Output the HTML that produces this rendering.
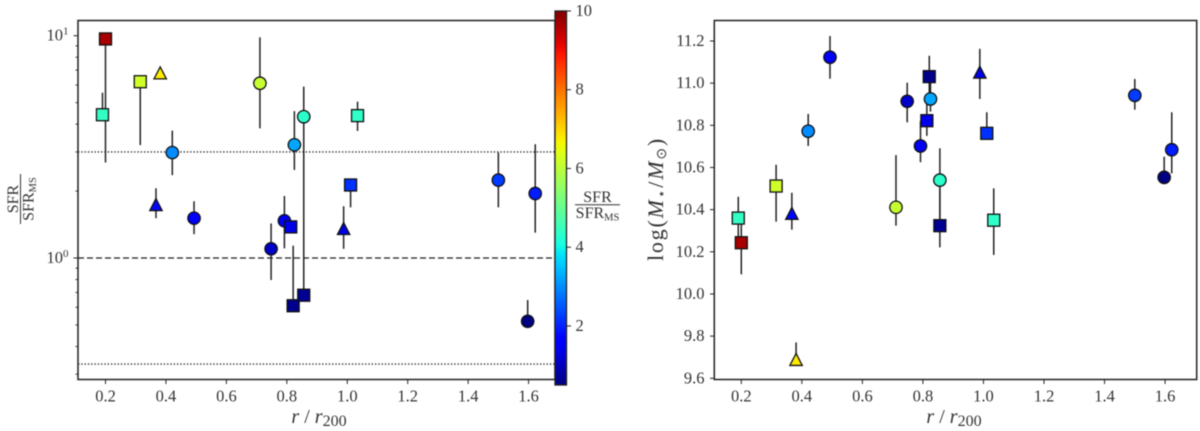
<!DOCTYPE html>
<html lang="en">
<head>
<meta charset="utf-8">
<title>SFR and stellar mass against cluster-centric radius</title>
<style>
html,body{margin:0;padding:0;background:#fff;width:1200px;height:431px;overflow:hidden}
svg{display:block;filter:blur(0.4px)}
text{font-family:"Liberation Serif",serif;fill:#333}
</style>
</head>
<body>
<svg id="fig" width="1200" height="431" viewBox="0 0 1200 431" xmlns="http://www.w3.org/2000/svg">
  <defs>
    <linearGradient id="jetGrad" x1="0" y1="1" x2="0" y2="0"></linearGradient>
  </defs>
  <g id="leftLines"></g>
  <g id="leftErr"></g>
  <g id="leftMarks"></g>
  <g id="leftAxes"></g>
  <g id="rightErr"></g>
  <g id="rightMarks"></g>
  <g id="rightAxes"></g>
  <g id="cbar"></g>

  <g transform="translate(20.5,199) rotate(-90)">
    <text x="0" y="-2.5" text-anchor="middle" font-size="16">SFR</text>
    <line x1="-25" x2="25" y1="0" y2="0" stroke="#333" stroke-width="1"></line>
    <text x="0" y="13" text-anchor="middle" font-size="16">SFR<tspan font-size="10.5" dy="2.5">MS</tspan></text>
  </g>
  <text x="319" y="423" text-anchor="middle" font-size="20"><tspan font-style="italic">r</tspan> / <tspan font-style="italic">r</tspan><tspan font-size="16" dy="3">200</tspan></text>

  <g>
    <text x="597.5" y="202" text-anchor="middle" font-size="16">SFR</text>
    <line x1="575" x2="620" y1="204.7" y2="204.7" stroke="#333" stroke-width="1"></line>
    <text x="597.5" y="218" text-anchor="middle" font-size="16">SFR<tspan font-size="10.5" dy="2.5">MS</tspan></text>
  </g>

  <text transform="translate(663,199) rotate(-90)" text-anchor="middle" font-size="22" letter-spacing="1.8">log(<tspan font-style="italic">M</tspan><tspan font-size="14" dy="3">⋆</tspan><tspan dy="-3">/</tspan><tspan font-style="italic">M</tspan><tspan font-size="14" dy="3">⊙</tspan><tspan dy="-3">)</tspan></text>
  <text x="954" y="423" text-anchor="middle" font-size="20"><tspan font-style="italic">r</tspan> / <tspan font-style="italic">r</tspan><tspan font-size="16" dy="3">200</tspan></text>
</svg>

<script>
// ---- Data ----
const radius  = [0.19, 0.20, 0.315, 0.381, 0.367, 0.421, 0.493, 0.711, 0.748, 0.792, 0.813, 0.825, 0.821, 0.856, 0.856, 0.988, 1.011, 1.034, 1.50, 1.622, 1.597];
const shapes  = ['s','s','s','t','t','c','c','c','c','c','s','c','s','c','s','t','s','s','c','c','c'];
const sfr     = [4.41, 9.67, 6.21, 6.77, 1.73, 2.98, 1.51, 6.11, 1.10, 1.47, 1.38, 3.23, 0.61, 4.32, 0.68, 1.35, 2.13, 4.37, 2.24, 1.95, 0.519];
const sfrHigh = [5.54, null, null, null, 2.06, 3.74, 1.80, 9.84, 1.43, 1.90, null, 4.58, 1.136, 5.90, 2.76, 1.71, null, 5.05, 2.98, 3.25, 0.647];
const sfrLow  = [null, 2.69, 3.22, null, 1.51, 2.36, 1.28, 3.83, 0.796, 1.105, null, 2.49, null, 2.76, null, 1.10, 1.69, 3.73, 1.69, 1.30, null];
const mass     = [10.36, 10.243, 10.512, 9.687, 10.38, 10.772, 11.123, 10.411, 10.914, 10.702, 10.822, 10.925, 11.031, 10.54, 10.324, 11.05, 10.762, 10.35, 10.942, 10.684, 10.553];
const massHigh = [10.461, 10.36, 10.613, 9.77, 10.48, 10.854, 11.224, 10.659, 11.002, 10.82, 10.906, 11.03, 11.13, 10.691, 10.5, 11.163, 10.862, 10.501, 11.02, 10.862, 10.651];
const massLow  = [10.25, 10.093, 10.343, null, 10.305, 10.702, 11.021, 10.324, 10.814, 10.625, 10.75, 10.865, 10.93, 10.32, 10.221, 10.925, null, 10.185, 10.874, 10.572, null];
const xTicks = [0.2, 0.4, 0.6, 0.8, 1.0, 1.2, 1.4, 1.6];
const massTicks = [9.6, 9.8, 10.0, 10.2, 10.4, 10.6, 10.8, 11.0, 11.2];
const sfrMinorTicks = [0.3, 0.4, 0.5, 0.6, 0.7, 0.8, 0.9, 2, 3, 4, 5, 6, 7, 8, 9];
const sfrMajorTicks = [1, 10];
const sfrMajorPowers = ['0', '1'];
const refLevels = [3, 1, 0.3333];
const refStyles = ['dotted', 'dashed', 'dotted'];
const cbarTicks = [2, 4, 6, 8, 10];
const cbarMin = 0.5;
const cbarMax = 10;

// ---- Axis functions ----
const xL = v => 105.5 + (v - 0.2) * 302.2;
const yL = v => 258 - 222.3 * Math.log10(v);
const xR = v => 741.3 + (v - 0.2) * 302.7;
const yR = v => 41 + (11.2 - v) * 210.8;
const yC = v => 385 - (v - cbarMin) * 374 / (cbarMax - cbarMin);

const NS = 'http://www.w3.org/2000/svg';
const INK = '#222';
const TICK_FONT = 16.5;
function mk(tag, parent) {
  const el = document.createElementNS(NS, tag);
  parent.appendChild(el);
  return el;
}
function seg(el, x1, y1, x2, y2, color, width) {
  el.setAttribute('x1', x1); el.setAttribute('y1', y1);
  el.setAttribute('x2', x2); el.setAttribute('y2', y2);
  el.setAttribute('stroke', color); el.setAttribute('stroke-width', width);
}
function interp(t, pts) {
  for (let i = 1; i < pts.length; i++) {
    if (t <= pts[i][0]) {
      const a = pts[i - 1], b = pts[i];
      return a[1] + (b[1] - a[1]) * (t - a[0]) / (b[0] - a[0]);
    }
  }
  return pts[pts.length - 1][1];
}
function jet(t) {
  t = Math.max(0, Math.min(1, t));
  const r = interp(t, [[0,0],[0.35,0],[0.66,1],[0.89,1],[1,0.5]]);
  const g = interp(t, [[0,0],[0.125,0],[0.375,1],[0.64,1],[0.91,0],[1,0]]);
  const b = interp(t, [[0,0.5],[0.11,1],[0.34,1],[0.65,0],[1,0]]);
  return 'rgb(' + Math.round(r * 255) + ',' + Math.round(g * 255) + ',' + Math.round(b * 255) + ')';
}
const colorOf = v => jet((v - cbarMin) / (cbarMax - cbarMin));

// ---- Marker layers ----
function drawErrors(group, xf, yf, ys, hi, lo) {
  radius.forEach((r, i) => {
    const top = hi[i] === null ? ys[i] : hi[i];
    const bot = lo[i] === null ? ys[i] : lo[i];
    const line = mk('line', group);
    
    
    seg(line, xf(r), yf(top), xf(r), yf(bot), '#222', 1.5);
  });
}
function drawMarker(group, kind, x, y, fill) {
  let m;
  if (kind === 'c') {
    m = mk('circle', group);
    m.setAttribute('cx', x);
    m.setAttribute('cy', y);
    m.setAttribute('r', 6.2);
  } else if (kind === 's') {
    m = mk('rect', group);
    m.setAttribute('x', x - 6);
    m.setAttribute('y', y - 6);
    m.setAttribute('width', 12);
    m.setAttribute('height', 12);
  } else {
    m = mk('polygon', group);
    m.setAttribute('points', (x - 6.2) + ',' + (y + 5.5) + ' ' + (x + 6.2) + ',' + (y + 5.5) + ' ' + x + ',' + (y - 6.5));
  }
  m.setAttribute('fill', fill);
  m.setAttribute('stroke', '#111');
  m.setAttribute('stroke-width', 1.3);
  return m;
}
function drawMarkers(group, xf, yf, ys) {
  ['c', 's', 't'].forEach(kind => {
    radius.forEach((r, i) => {
      if (shapes[i] !== kind) return;
      const m = drawMarker(group, kind, xf(r), yf(ys[i]), colorOf(sfr[i]));
      
      
    });
  });
}
drawErrors(document.getElementById('leftErr'), xL, yL, sfr, sfrHigh, sfrLow);
drawMarkers(document.getElementById('leftMarks'), xL, yL, sfr);
drawErrors(document.getElementById('rightErr'), xR, yR, mass, massHigh, massLow);
drawMarkers(document.getElementById('rightMarks'), xR, yR, mass);

// ---- Reference lines ----
const refGroup = document.getElementById('leftLines');
refLevels.forEach((lvl, i) => {
  const l = mk('line', refGroup);
  
  
  seg(l, 78, yL(lvl), 555, yL(lvl), '#222', 1.3);
  l.setAttribute('stroke-dasharray', refStyles[i] === 'dashed' ? '6 3' : '1.3 2');
});

// ---- Axes ----
function frame(group, x0, y0, x1, y1) {
  const f = mk('rect', group);
  
  
  f.setAttribute('x', x0); f.setAttribute('y', y0);
  f.setAttribute('width', x1 - x0); f.setAttribute('height', y1 - y0);
  f.setAttribute('fill', 'none'); f.setAttribute('stroke', INK); f.setAttribute('stroke-width', 1.5);
}
function xAxis(group, xf) {
  xTicks.forEach(v => {
    const t = mk('line', group);
    
    
    seg(t, xf(v), 379.5, xf(v), 384, INK, 1);
    const lab = mk('text', group);
    
    
    lab.setAttribute('x', xf(v)); lab.setAttribute('y', 401.5);
    lab.setAttribute('text-anchor', 'middle'); lab.setAttribute('font-size', TICK_FONT);
    lab.textContent = v.toFixed(1);
  });
}
const leftAxes = document.getElementById('leftAxes');
frame(leftAxes, 78, 20.5, 555, 379.5);
xAxis(leftAxes, xL);
sfrMinorTicks.forEach(v => {
  const t = mk('line', leftAxes);
  
  
  seg(t, 75.5, yL(v), 78, yL(v), INK, 0.9);
});
sfrMajorTicks.forEach((v, i) => {
  const t = mk('line', leftAxes);
  
  
  seg(t, 73.5, yL(v), 78, yL(v), INK, 1);
  const lab = mk('text', leftAxes);
  
  
  lab.setAttribute('x', 46.5); lab.setAttribute('y', yL(v) + 5);
  lab.setAttribute('font-size', TICK_FONT);
  lab.textContent = '10';
  const sup = mk('tspan', lab);
  sup.setAttribute('font-size', 11);
  sup.setAttribute('dy', -6);
  sup.textContent = sfrMajorPowers[i];
});

const rightAxes = document.getElementById('rightAxes');
frame(rightAxes, 714.3, 20.5, 1196.7, 379.5);
xAxis(rightAxes, xR);
massTicks.forEach(v => {
  const t = mk('line', rightAxes);
  
  
  seg(t, 710, yR(v), 714.3, yR(v), INK, 1);
  const lab = mk('text', rightAxes);
  
  
  lab.setAttribute('x', 704.5); lab.setAttribute('y', yR(v) + 5);
  lab.setAttribute('text-anchor', 'end'); lab.setAttribute('font-size', TICK_FONT);
  lab.textContent = v.toFixed(1);
});

// ---- Colorbar ----
const grad = document.getElementById('jetGrad');
for (let i = 0; i <= 40; i++) {
  const s = mk('stop', grad);
  s.setAttribute('offset', (i / 40));
  s.setAttribute('stop-color', jet(i / 40));
}
const cbar = document.getElementById('cbar');
const bar = mk('rect', cbar);


bar.setAttribute('x', 555); bar.setAttribute('y', 11);
bar.setAttribute('width', 11.5); bar.setAttribute('height', 374);
bar.setAttribute('fill', 'url(#jetGrad)');
bar.setAttribute('stroke', INK); bar.setAttribute('stroke-width', 1.3);
cbarTicks.forEach(v => {
  const t = mk('line', cbar);
  
  
  seg(t, 566.5, yC(v), 571, yC(v), INK, 1);
  const lab = mk('text', cbar);
  
  
  lab.setAttribute('x', 575.5); lab.setAttribute('y', yC(v) + 5);
  lab.setAttribute('font-size', TICK_FONT);
  lab.textContent = String(v);
});
</script>
</body>
</html>
